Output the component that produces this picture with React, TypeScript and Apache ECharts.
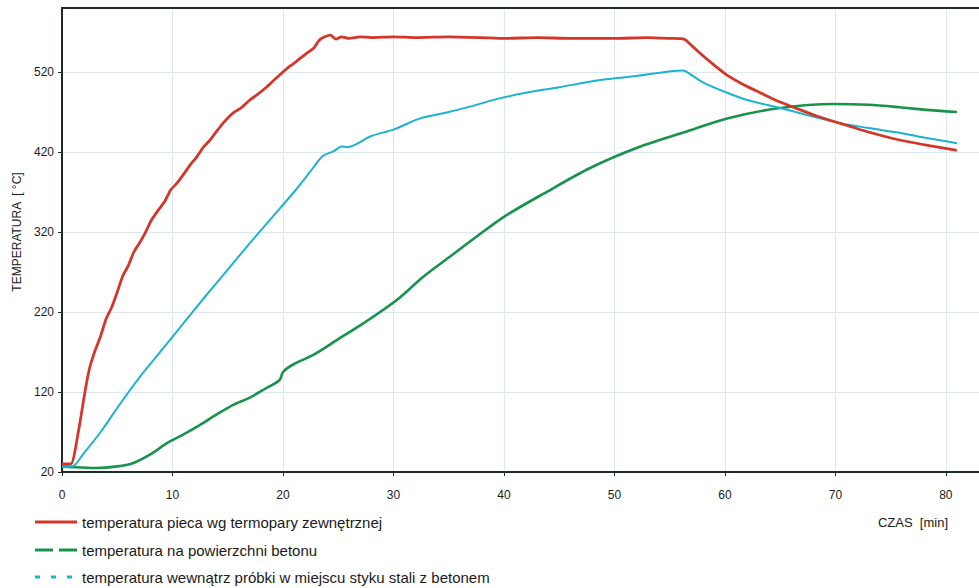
import React, { useEffect, useRef } from "react";
import * as echarts from "echarts";

// ---- data ----
const furnaceTime = [0, 0.8, 1.5, 2.1, 2.5, 3, 3.5, 4, 4.5, 5, 5.5, 6, 6.5, 7, 7.5, 8.1, 8.7, 9.3, 9.8, 10.4, 11, 11.6, 12.2, 12.8, 13.4, 14, 14.7, 15.5, 16.2, 17, 17.7, 18.5, 19.2, 20, 20.6, 21.2, 22.2, 22.8, 23.3, 23.8, 24.3, 24.8, 25.3, 26, 27, 28, 30, 32, 35, 38, 40, 43, 46, 50, 53, 55, 56.3, 57, 57.7, 59, 60.2, 61.7, 63.2, 64.7, 66.2, 68.3, 70.4, 73, 75.8, 78.5, 81];
const furnaceTemp = [30, 30, 72, 122, 150, 172, 190, 212, 226, 245, 265, 278, 295, 306, 318, 335, 347, 358, 372, 381, 392, 404, 414, 426, 435, 446, 458, 469, 475, 485, 492, 501, 510, 520, 527, 533, 544, 550, 560, 564, 566, 561, 564, 562, 564, 563, 564, 563, 564, 563, 562, 563, 562, 562, 563, 562, 561, 553, 544, 529, 516, 504, 494, 484, 476, 465, 456, 445, 435, 428, 422];

const surfaceTime = [0, 1, 3, 5, 6.4, 8, 9.5, 11, 12.5, 14, 15.5, 17, 18.5, 19.7, 20, 21, 22.7, 25, 27.3, 30.3, 32.7, 35.1, 37.5, 40, 43.6, 47.8, 52, 56.4, 60.2, 65, 69.8, 73, 75.8, 78, 81];
const surfaceTemp = [27, 26, 25, 27, 31, 42, 56, 67, 79, 92, 104, 113, 125, 135, 145, 155, 166, 186, 206, 235, 264, 289, 314, 339, 368, 400, 425, 445, 462, 475, 480, 479, 476, 473, 470];

const innerTime = [0, 0.9, 2, 3.5, 5.25, 7, 9, 11, 13, 15, 17, 19, 21, 22.5, 23.6, 24.6, 25.3, 25.8, 28, 30, 32.4, 35, 37, 39.6, 42, 45, 48.7, 52, 56.2, 57, 58, 60.2, 62, 65, 67.5, 70.4, 73, 75.8, 78, 81];
const innerTemp = [27, 27, 44, 70, 105, 138, 172, 206, 240, 273, 306, 338, 370, 396, 415, 421, 427, 426, 440, 448, 462, 470, 477, 487, 494, 501, 510, 515, 522, 516, 507, 494, 485, 475, 466, 456, 450, 444, 438, 431];

const yTicks = [20, 120, 220, 320, 420, 520];
const xTicks = [0, 10, 20, 30, 40, 50, 60, 70, 80];

const legendLabels = [
  "temperatura pieca wg termopary zewnętrznej",
  "temperatura na powierzchni betonu",
  "temperatura wewnątrz próbki w miejscu styku stali z betonem",
];
const yAxisTitle = "TEMPERATURA  [ °C]";
const xAxisTitle = "CZAS  [min]";

const RED = "#d4372a";
const GREEN = "#17944a";
const CYAN = "#1cb3cf";
const AXIS = "#1e2b2b";
const GRIDC = "#dbe7f6";
const FONT = "'Liberation Sans', Arial, sans-serif";

const zip = (a: number[], b: number[]) => a.map((t, i) => [t, b[i]]);

export default function App() {
  const ref = useRef<HTMLDivElement>(null);
  useEffect(() => {
    if (!ref.current) return;
    const chart = echarts.init(ref.current, null, { renderer: "svg" });
    const lineY = [522, 550, 577];
    chart.setOption({
      animation: false,
      backgroundColor: "#ffffff",
      grid: { left: 62, right: 0, top: 8, bottom: 116, containLabel: false },
      xAxis: [
        {
          type: "value",
          min: 0,
          max: 83,
          interval: 10,
          axisLine: { show: true, lineStyle: { color: AXIS, width: 2 } },
          axisTick: { show: true, length: 4, lineStyle: { color: AXIS } },
          axisLabel: {
            show: true,
            margin: 17,
            fontSize: 12,
            color: "#1a1a1a",
            fontFamily: FONT,
            showMaxLabel: false,
            formatter: (v: number) => (xTicks.includes(v) ? String(v) : ""),
          },
          splitLine: { show: true, lineStyle: { color: GRIDC, width: 1 } },
        },
        {
          type: "value",
          position: "top",
          min: 0,
          max: 83,
          axisLine: { show: true, onZero: false, lineStyle: { color: AXIS, width: 2 } },
          axisTick: { show: false },
          axisLabel: { show: false },
          splitLine: { show: false },
        },
      ],
      yAxis: {
        type: "value",
        min: 20,
        max: 600,
        interval: 100,
        axisLine: { show: true, onZero: false, lineStyle: { color: AXIS, width: 2 } },
        axisTick: { show: true, length: 4, lineStyle: { color: AXIS } },
        axisLabel: {
          show: true,
          margin: 8,
          fontSize: 12,
          color: "#1a1a1a",
          fontFamily: FONT,
          showMaxLabel: false,
          formatter: (v: number) => (yTicks.includes(v) ? String(v) : ""),
        },
        splitLine: { show: true, lineStyle: { color: GRIDC, width: 1 } },
      },
      series: [
        {
          name: legendLabels[1],
          type: "line",
          data: zip(surfaceTime, surfaceTemp),
          showSymbol: false,
          smooth: 0.3,
          lineStyle: { color: GREEN, width: 2.6 },
          z: 3,
        },
        {
          name: legendLabels[2],
          type: "line",
          data: zip(innerTime, innerTemp),
          showSymbol: false,
          smooth: 0.3,
          lineStyle: { color: CYAN, width: 2 },
          z: 4,
        },
        {
          name: legendLabels[0],
          type: "line",
          data: zip(furnaceTime, furnaceTemp),
          showSymbol: false,
          smooth: 0.2,
          lineStyle: { color: RED, width: 2.8 },
          z: 5,
        },
      ],
      graphic: [
        {
          type: "text",
          x: 17,
          y: 232,
          rotation: Math.PI / 2,
          style: {
            text: yAxisTitle,
            fontSize: 12,
            fontFamily: FONT,
            fill: "#1a1a1a",
            align: "center",
            verticalAlign: "middle",
          },
        },
        {
          type: "text",
          x: 948,
          y: 522,
          style: {
            text: xAxisTitle,
            fontSize: 13,
            fontFamily: FONT,
            fill: "#1a1a1a",
            align: "right",
            verticalAlign: "middle",
          },
        },
        {
          type: "line",
          shape: { x1: 35, y1: lineY[0], x2: 77, y2: lineY[0] },
          style: { stroke: RED, lineWidth: 3 },
        },
        {
          type: "line",
          shape: { x1: 35, y1: lineY[1], x2: 53, y2: lineY[1] },
          style: { stroke: GREEN, lineWidth: 3 },
        },
        {
          type: "line",
          shape: { x1: 59, y1: lineY[1], x2: 77, y2: lineY[1] },
          style: { stroke: GREEN, lineWidth: 3 },
        },
        {
          type: "line",
          shape: { x1: 35, y1: lineY[2], x2: 40, y2: lineY[2] },
          style: { stroke: CYAN, lineWidth: 3 },
        },
        {
          type: "line",
          shape: { x1: 51, y1: lineY[2], x2: 56, y2: lineY[2] },
          style: { stroke: CYAN, lineWidth: 3 },
        },
        {
          type: "line",
          shape: { x1: 67, y1: lineY[2], x2: 72, y2: lineY[2] },
          style: { stroke: CYAN, lineWidth: 3 },
        },
        ...legendLabels.map((t, i) => ({
          type: "text",
          x: 82,
          y: lineY[i],
          style: {
            text: t,
            fontSize: 15,
            fontFamily: FONT,
            fill: "#1a1a1a",
            align: "left",
            verticalAlign: "middle",
          },
        })),
      ],
    });
    return () => chart.dispose();
  }, []);
  return (
    <div
      ref={ref}
      style={{ position: "absolute", left: 0, top: 0, width: 979, height: 588 }}
    />
  );
}
